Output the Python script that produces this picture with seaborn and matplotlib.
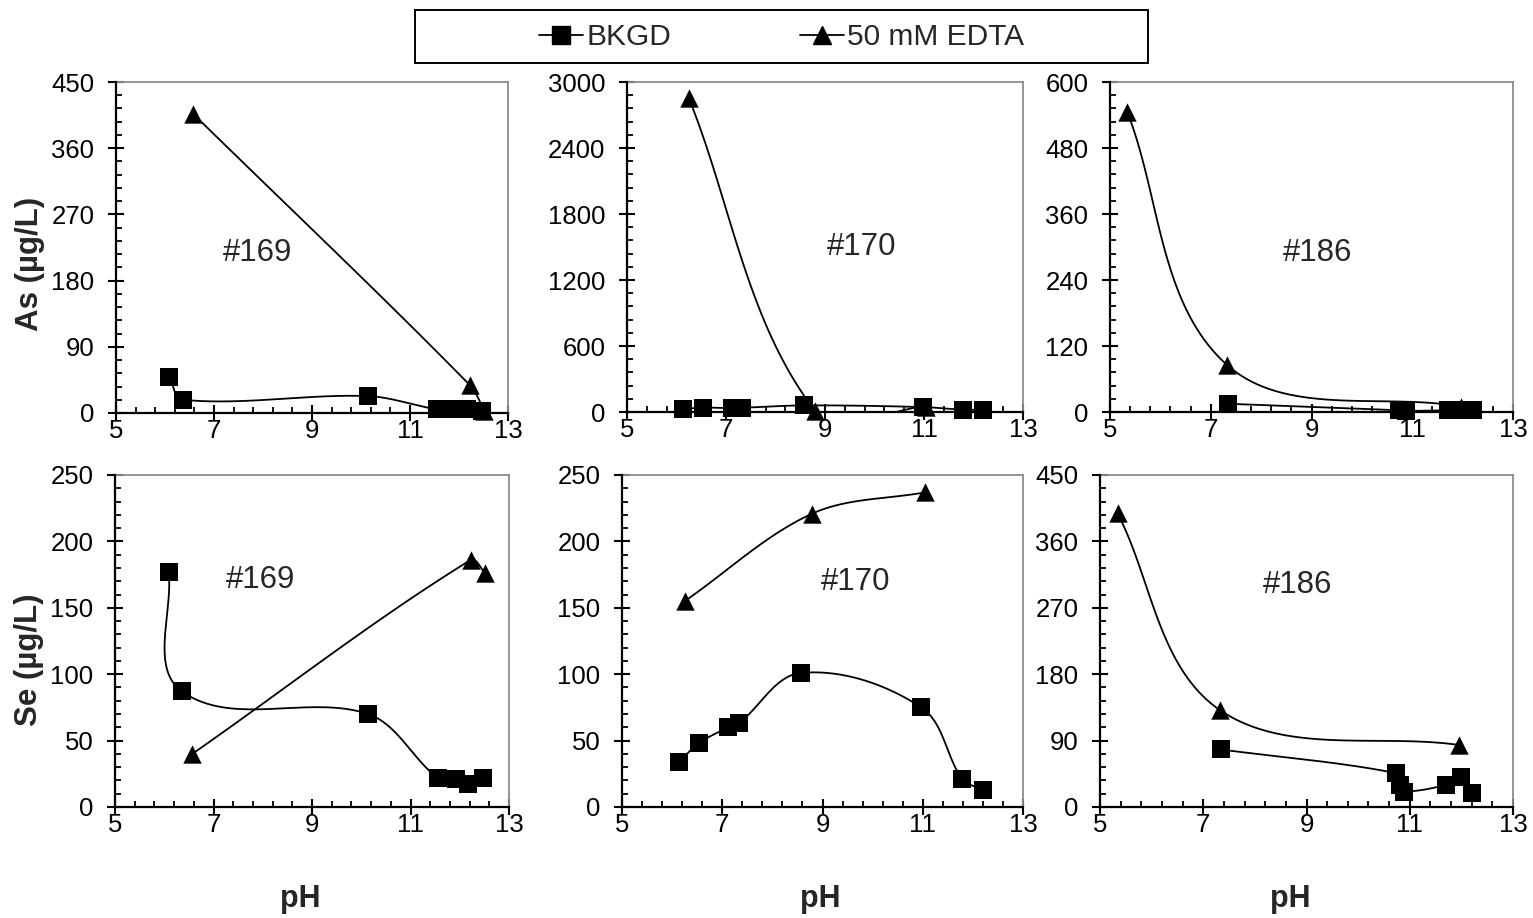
import numpy as np
import matplotlib
matplotlib.use("Agg")
import matplotlib.pyplot as plt
from matplotlib.lines import Line2D
from matplotlib.patches import Rectangle
from matplotlib.ticker import MultipleLocator, FixedLocator
import seaborn as sns

# ---------------- data ----------------
pH169_bk = [6.09, 6.36, 10.14, 11.55, 11.92, 12.17, 12.47]
As169_bk = [49, 18, 23, 5, 5, 5, 3]
Se169_bk = [177, 87, 70, 22, 21, 17, 22]
pH169_ed = [6.57, 12.22, 12.52]
As169_ed = [407, 38, 3]
Se169_ed = [40, 186, 176]

pH170_bk = [6.14, 6.53, 7.12, 7.33, 8.58, 10.97, 11.79, 12.2]
As170_bk = [27, 40, 35, 38, 60, 45, 21, 21]
Se170_bk = [34, 48, 60, 63, 101, 75, 21, 13]
pH170_ed = [6.25, 8.8, 11.05]
As170_ed = [2852, 10, 50]
Se170_ed = [155, 221, 237]

pH186_bk = [7.34, 10.73, 10.81, 10.88, 11.70, 11.99, 12.2]
As186_bk = [15, 3, 3, 2, 3, 3, 3]
Se186_bk = [78, 46, 30, 21, 30, 41, 19]
pH186_ed = [5.34, 7.33, 11.96]
As186_ed = [546, 85, 10]
Se186_ed = [398, 131, 84]

samples = ["#169", "#170", "#186"]
series_labels = ["BKGD", "50 mM EDTA"]
pH_ticks = [5, 7, 9, 11, 13]
as_ymax = [450, 3000, 600]
as_ystep = [90, 600, 120]
se_ymax = [250, 250, 450]
se_ystep = [50, 50, 90]

# ---------------- style ----------------
sns.set_style("ticks")
plt.rcParams["font.family"] = ["Liberation Sans", "DejaVu Sans"]

W, H = 1533, 918
fig = plt.figure(figsize=(W / 100, H / 100), dpi=100)


def px_axes(l, t, r, b):
    return fig.add_axes([l / W, 1 - b / H, (r - l) / W, (b - t) / H])


axes_top = [px_axes(116, 82, 508, 413), px_axes(627, 82, 1023, 412), px_axes(1110, 82, 1513, 412)]
axes_bot = [px_axes(115, 475, 509, 807), px_axes(622, 475, 1023, 807), px_axes(1100, 475, 1513, 807)]


def _unit(v):
    n = np.hypot(v[0], v[1])
    return v / n if n > 0 else v


def smooth(x, y, ymax, aspect=1.2, n=40):
    """Excel-like smoothed line (Bezier, tangent length limited by segment length)."""
    X = (np.asarray(x, float) - 5) / 8 * aspect
    Y = np.asarray(y, float) / ymax
    P = np.column_stack([X, Y])
    m = len(P)
    if m < 3:
        pts = P
    else:
        Pe = np.vstack([P[0], P, P[-1]])
        segs = []
        t = np.linspace(0, 1, n)[:, None]
        for i in range(1, m):
            p0, p1, p2, p3 = Pe[i - 1], Pe[i], Pe[i + 1], Pe[i + 2]
            d = np.hypot(*(p2 - p1))
            b1 = p1 + _unit(p2 - p0) * d / 3
            b2 = p2 - _unit(p3 - p1) * d / 3
            seg = ((1 - t) ** 3) * p1 + 3 * ((1 - t) ** 2) * t * b1 + 3 * (1 - t) * t ** 2 * b2 + t ** 3 * p2
            segs.append(seg if i == 1 else seg[1:])
        pts = np.vstack(segs)
    return pts[:, 0] / aspect * 8 + 5, pts[:, 1] * ymax


def draw(ax, pbk, vbk, ped, ved, ymax, ystep, tag, tagpos):
    for px_, vy, mk, ms in [(pbk, vbk, "s", 175), (ped, ved, "^", 175)]:
        sx, sy = smooth(px_, vy, ymax)
        sns.lineplot(x=sx, y=sy, sort=False, estimator=None, color="black", lw=1.3, ax=ax, zorder=2)
        sns.scatterplot(x=px_, y=vy, marker=mk, s=ms, color="black", edgecolor="black",
                        linewidth=0, ax=ax, zorder=3, clip_on=False)
    ax.set_xlim(5, 13)
    ax.set_ylim(0, ymax)
    ax.xaxis.set_major_locator(FixedLocator(pH_ticks))
    ax.xaxis.set_minor_locator(FixedLocator([v for v in np.arange(5, 13.01, 0.4)
                                             if min(abs(v - t) for t in pH_ticks) > 0.01]))
    ax.yaxis.set_major_locator(MultipleLocator(ystep))
    ax.yaxis.set_minor_locator(MultipleLocator(ystep / 5))
    ax.tick_params(axis="both", which="major", direction="inout", length=11, width=1.5,
                   labelsize=18.5, color="black", labelcolor="black")
    ax.tick_params(axis="x", which="major", pad=-1)
    ax.tick_params(axis="y", which="major", pad=10)
    ax.tick_params(axis="both", which="minor", direction="in", length=4.5, width=1.3, color="black")
    for s in ["left", "bottom"]:
        ax.spines[s].set_color("black")
        ax.spines[s].set_linewidth(1.6)
    for s in ["top", "right"]:
        ax.spines[s].set_visible(True)
        ax.spines[s].set_color("#8c8c8c")
        ax.spines[s].set_linewidth(1.3)
    ax.spines["left"].set_zorder(4)
    ax.spines["bottom"].set_zorder(4)
    ax.set_xlabel("")
    ax.set_ylabel("")
    ax.text(tagpos[0], tagpos[1], tag, transform=ax.transAxes, fontsize=22.5,
            ha="center", va="center")
    ax.set_facecolor("white")


top_tags = [(0.361, 0.483), (0.593, 0.50), (0.516, 0.482)]
bot_tags = [(0.37, 0.684), (0.583, 0.679), (0.479, 0.669)]

As_bk = [As169_bk, As170_bk, As186_bk]
As_ed = [As169_ed, As170_ed, As186_ed]
Se_bk = [Se169_bk, Se170_bk, Se186_bk]
Se_ed = [Se169_ed, Se170_ed, Se186_ed]
pH_bk = [pH169_bk, pH170_bk, pH186_bk]
pH_ed = [pH169_ed, pH170_ed, pH186_ed]

for i in range(3):
    draw(axes_top[i], pH_bk[i], As_bk[i], pH_ed[i], As_ed[i], as_ymax[i], as_ystep[i],
         samples[i], top_tags[i])
    draw(axes_bot[i], pH_bk[i], Se_bk[i], pH_ed[i], Se_ed[i], se_ymax[i], se_ystep[i],
         samples[i], bot_tags[i])

axes_top[0].set_ylabel("As (µg/L)", fontsize=22.5, fontweight="bold")
axes_top[0].yaxis.set_label_coords(-0.181, 0.45)
axes_bot[0].set_ylabel("Se (µg/L)", fontsize=22.5, fontweight="bold")
axes_bot[0].yaxis.set_label_coords(-0.18, 0.443)

pH_pos = [0.47, 0.494, 0.46]
for i, ax in enumerate(axes_bot):
    ax.set_xlabel("pH", fontsize=22, fontweight="bold")
    ax.xaxis.set_label_coords(pH_pos[i], -0.232)

# legend with rectangular frame
fig.patches.append(Rectangle((415 / W, 1 - 63 / H), (1148 - 415) / W, (63 - 10) / H,
                             transform=fig.transFigure, fill=False, edgecolor="black",
                             linewidth=1.4))
handles = [Line2D([], [], color="black", lw=1.3, marker="s", markersize=12.5),
           Line2D([], [], color="black", lw=1.3, marker="^", markersize=13)]
fig.legend(handles, series_labels, loc="center", bbox_to_anchor=(781.5 / W, 1 - 37 / H),
           ncol=2, frameon=False, fontsize=21.5, handlelength=1.5, handletextpad=0.1,
           columnspacing=4.3, borderpad=0)

fig.savefig("out.png", dpi=100, facecolor="white")
